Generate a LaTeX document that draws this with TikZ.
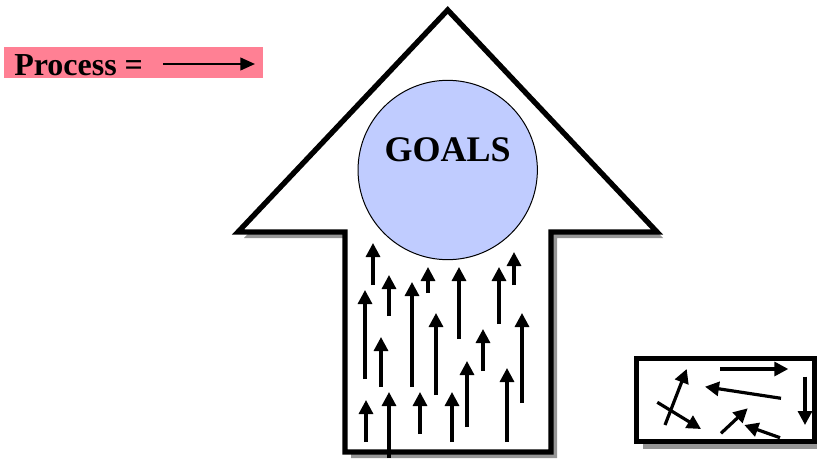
\documentclass[tikz,border=0pt]{standalone}
\usepackage{fontspec}
\setmainfont{Liberation Serif}
\usetikzlibrary{arrows.meta}
\definecolor{goalblue}{RGB}{192,204,255}
\definecolor{procpink}{RGB}{255,128,148}
\definecolor{shadowgray}{RGB}{150,150,150}
\begin{document}
\begin{tikzpicture}[x=0.75pt,y=-0.75pt,
  flow/.style={line width=2.4pt, -{Triangle[length=10.5pt,width=10.5pt]}},
  frame/.style={line width=4pt, draw=black, fill=white, line join=miter}]
\useasboundingbox (0,0) rectangle (817,460);

\fill[procpink] (4,47) rectangle (263,78);
\node[anchor=base west, inner sep=0, font=\bfseries\fontsize{24}{28}\selectfont] (proc) at (14,75) {Process =};
\coordinate (p1) at (163,64);
\coordinate (p2) at (255,64);
\draw[line width=1.6pt, -{Triangle[length=11pt,width=9.5pt]}] (p1) -- (p2);

\fill[shadowgray, shift={(6,6)}] (447.7,10) -- (657,232) -- (551,232) -- (551,452) -- (345,452) -- (345,232) -- (238,232) -- cycle;
\draw[frame] (447.7,10) -- (657,232) -- (551,232) -- (551,452) -- (345,452) -- (345,232) -- (238,232) -- cycle;

\node[circle, draw, line width=0.75pt, fill=goalblue, minimum size=134.5pt, inner sep=0] (goal) at (447.7,170) {};
\node[anchor=base, inner sep=0, font=\bfseries\fontsize{27}{30}\selectfont] (goals) at (447.7,161.7) {GOALS};

\foreach \x/\a/\b in {373/285/243, 389/316/275, 428/293/267, 459/339/267, 499/324/267, 514/285/252,
  365/379/290, 412/387/282, 436/395/313, 483/371/329, 522/403/313, 381/387/337,
  467/427/361, 507/442/368, 366/442/400, 389/458/392, 420/434/392, 452/442/392}
  \draw[flow] (\x,\a) -- (\x,\b);

\fill[shadowgray] (642.7,365) rectangle (821,448.7);
\draw[frame] (636.7,358.3) rectangle (815,441.7);
\foreach \a/\b/\c/\d in {665/425/686.7/369, 657.3/402.3/701/429, 720/369/788.3/369,
  781/398.3/705/386.7, 805/376.7/805/425, 721/433.3/747.7/408.3, 780/437.7/744.3/425}
  \draw[flow] (\a,\b) -- (\c,\d);

\end{tikzpicture}
\end{document}
